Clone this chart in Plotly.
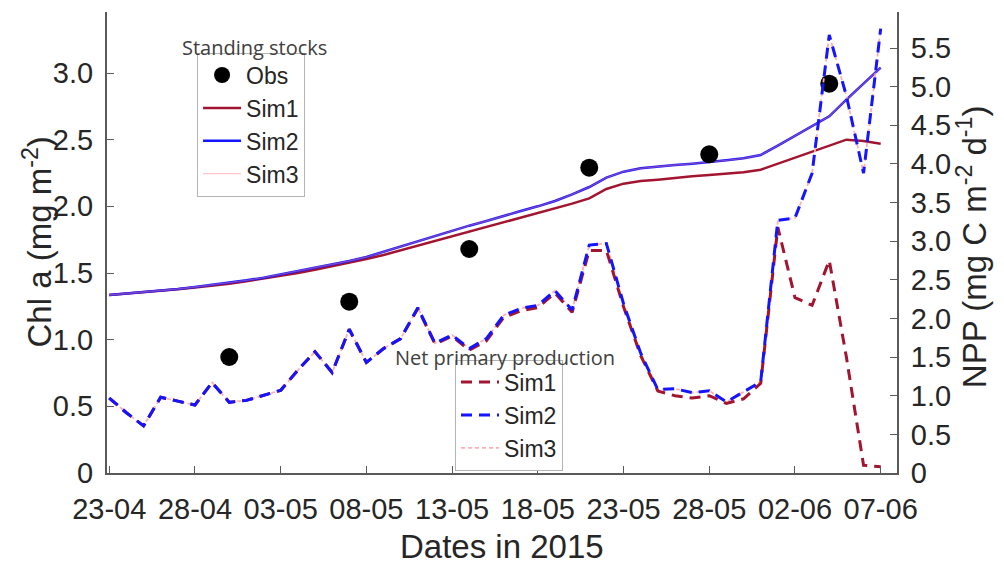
import plotly.graph_objects as go
import pandas as pd

# ---------------- data ----------------
dates = pd.date_range("2015-04-23", periods=46, freq="D")

ss_sim1 = [1.335, 1.345, 1.355, 1.368, 1.378, 1.392, 1.405, 1.42, 1.438, 1.458,
           1.48, 1.50, 1.525, 1.55, 1.575, 1.605, 1.635, 1.67, 1.70, 1.74,
           1.775, 1.81, 1.845, 1.88, 1.91, 1.945, 1.98, 2.02, 2.06, 2.13,
           2.17, 2.19, 2.20, 2.215, 2.225, 2.235, 2.245, 2.255, 2.275, 2.32,
           2.37, 2.41, 2.46, 2.50, 2.49, 2.47]
ss_sim2 = [1.335, 1.345, 1.355, 1.37, 1.38, 1.395, 1.41, 1.425, 1.445, 1.465,
           1.49, 1.51, 1.535, 1.56, 1.59, 1.62, 1.66, 1.70, 1.74, 1.78,
           1.82, 1.855, 1.89, 1.93, 1.965, 2.00, 2.04, 2.09, 2.145, 2.215,
           2.26, 2.285, 2.30, 2.31, 2.32, 2.33, 2.345, 2.36, 2.385, 2.455,
           2.53, 2.60, 2.675, 2.80, 2.92, 3.04]
ss_sim3 = [1.335, 1.345, 1.355, 1.37, 1.38, 1.395, 1.41, 1.425, 1.445, 1.465,
           1.49, 1.51, 1.535, 1.56, 1.59, 1.62, 1.66, 1.70, 1.74, 1.78,
           1.82, 1.855, 1.89, 1.93, 1.965, 2.00, 2.04, 2.09, 2.145, 2.215,
           2.26, 2.285, 2.30, 2.31, 2.32, 2.33, 2.345, 2.36, 2.385, 2.455,
           2.53, 2.60, 2.675, 2.80, 2.92, 3.04]

obs_dates = ["2015-04-30", "2015-05-07", "2015-05-14", "2015-05-21", "2015-05-28", "2015-06-04"]
obs_vals = [0.87, 1.285, 1.68, 2.29, 2.39, 2.92]

npp_sim1 = [0.97, 0.78, 0.61, 0.98, 0.93, 0.88, 1.17, 0.915, 0.94, 1.00,
            1.07, 1.33, 1.57, 1.30, 1.86, 1.43, 1.61, 1.74, 2.13, 1.67,
            1.77, 1.59, 1.71, 2.01, 2.10, 2.14, 2.33, 2.08, 2.88, 2.88,
            2.15, 1.52, 1.06, 1.00, 0.97, 1.00, 0.90, 0.96, 1.16, 3.18,
            2.27, 2.17, 2.75, 1.50, 0.10, 0.08]
npp_sim2 = [0.97, 0.78, 0.61, 0.98, 0.93, 0.88, 1.17, 0.915, 0.94, 1.00,
            1.07, 1.33, 1.57, 1.30, 1.86, 1.43, 1.61, 1.74, 2.14, 1.68,
            1.785, 1.61, 1.74, 2.04, 2.13, 2.17, 2.36, 2.11, 2.95, 2.97,
            2.19, 1.55, 1.08, 1.09, 1.04, 1.065, 0.92, 1.05, 1.18, 3.27,
            3.30, 3.88, 5.67, 4.88, 3.88, 5.75]
npp_sim3 = [0.97, 0.78, 0.61, 0.98, 0.93, 0.88, 1.17, 0.915, 0.94, 1.00,
            1.07, 1.33, 1.57, 1.30, 1.86, 1.43, 1.61, 1.74, 2.14, 1.68,
            1.785, 1.61, 1.74, 2.04, 2.13, 2.17, 2.36, 2.11, 2.95, 2.97,
            2.19, 1.55, 1.08, 1.09, 1.04, 1.065, 0.92, 1.05, 1.18, 3.27,
            3.30, 3.88, 5.67, 4.88, 3.88, 5.75]

x_tick_dates = ["2015-04-23", "2015-04-28", "2015-05-03", "2015-05-08", "2015-05-13",
                "2015-05-18", "2015-05-23", "2015-05-28", "2015-06-02", "2015-06-07"]
x_tick_labels = ["23-04", "28-04", "03-05", "08-05", "13-05",
                 "18-05", "23-05", "28-05", "02-06", "07-06"]
left_ticks = [0, 0.5, 1.0, 1.5, 2.0, 2.5, 3.0]
left_labels = ["0", "0.5", "1.0", "1.5", "2.0", "2.5", "3.0"]
right_ticks = [0, 0.5, 1.0, 1.5, 2.0, 2.5, 3.0, 3.5, 4.0, 4.5, 5.0, 5.5]
right_labels = ["0", "0.5", "1.0", "1.5", "2.0", "2.5", "3.0", "3.5", "4.0", "4.5", "5.0", "5.5"]

# ---------------- styles ----------------
RED = "#a2142f"
BLUE = "#1414ff"
PINK_SOLID = "rgba(255,130,140,0.45)"
PINK_DOT = "rgb(255,175,180)"
FONT = "Liberation Sans"
TXT = "#262626"
AX = "#5a5a5a"

fig = go.Figure()

# standing stocks (left axis)
fig.add_trace(go.Scatter(x=dates, y=ss_sim1, mode="lines", name="Sim1",
                         line=dict(color=RED, width=2.5), legend="legend", legendrank=2))
fig.add_trace(go.Scatter(x=dates, y=ss_sim2, mode="lines", name="Sim2",
                         line=dict(color=BLUE, width=2.5), legend="legend", legendrank=3))
fig.add_trace(go.Scatter(x=dates, y=ss_sim3, mode="lines", name="Sim3",
                         line=dict(color=PINK_SOLID, width=1.3), legend="legend", legendrank=4))
fig.add_trace(go.Scatter(x=obs_dates, y=obs_vals, mode="markers", name="Obs",
                         marker=dict(color="black", size=18), legend="legend", legendrank=1))

# net primary production (right axis)
fig.add_trace(go.Scatter(x=dates, y=npp_sim3, mode="lines", name="Sim3", yaxis="y2",
                         line=dict(color=PINK_DOT, width=1.8, dash="4px,3px"),
                         legend="legend2", legendrank=3))
fig.add_trace(go.Scatter(x=dates, y=npp_sim1, mode="lines", name="Sim1", yaxis="y2",
                         line=dict(color=RED, width=3, dash="11px,7px"),
                         legend="legend2", legendrank=1))
fig.add_trace(go.Scatter(x=dates, y=npp_sim2, mode="lines", name="Sim2", yaxis="y2",
                         line=dict(color=BLUE, width=3, dash="11px,7px"),
                         legend="legend2", legendrank=2))

axis_common = dict(showgrid=False, zeroline=False, showline=True, linecolor=AX, linewidth=2,
                   ticks="inside", ticklen=7, tickwidth=1.3, tickcolor=AX,
                   tickfont=dict(family=FONT, size=29, color=TXT))

title_font = dict(family=FONT, size=33, color=TXT)
leg_title_font = dict(family="Open Sans", size=20, color="#404040")
leg_font = dict(family=FONT, size=23, color=TXT)

fig.update_layout(
    width=1004, height=570,
    margin=dict(l=107, r=107, t=12, b=97),
    paper_bgcolor="white", plot_bgcolor="white",
    font=dict(family=FONT, color=TXT),
    showlegend=True,
    xaxis=dict(type="date", range=["2015-04-22 20:50", "2015-06-07 22:50"],
               tickmode="array", tickvals=x_tick_dates, ticktext=x_tick_labels,
               ticklabelstandoff=9, **axis_common),
    yaxis=dict(range=[0, 3.4575], tickmode="array", tickvals=left_ticks, ticktext=left_labels,
               ticklabelstandoff=6, **axis_common),
    yaxis2=dict(range=[0, 5.966], overlaying="y", side="right", anchor="x",
                tickmode="array", tickvals=right_ticks, ticktext=right_labels,
                ticklabelstandoff=6, **axis_common),
    legend=dict(x=0.114, y=0.912, xanchor="left", yanchor="top",
                bgcolor="white", bordercolor="#b4b4b4", borderwidth=1,
                font=leg_font, tracegroupgap=0, itemwidth=38),
    legend2=dict(x=0.4405, y=0.246, xanchor="left", yanchor="top",
                 bgcolor="white", bordercolor="#b4b4b4", borderwidth=1,
                 font=leg_font, tracegroupgap=0, itemwidth=38),
    annotations=[
        dict(text="Chl a (mg m<sup>-2</sup>)", x=-0.0886, y=0.5, xref="paper", yref="paper",
             textangle=-90, showarrow=False, xanchor="center", yanchor="middle", font=title_font),
        dict(text="NPP (mg C m<sup>-2</sup> d<sup>-1</sup>)", x=1.0949, y=0.492, xref="paper", yref="paper",
             textangle=-90, showarrow=False, xanchor="center", yanchor="middle", font=title_font),
        dict(text="Dates in 2015", x=0.5, y=-0.1605, xref="paper", yref="paper",
             showarrow=False, xanchor="center", yanchor="middle", font=title_font),
        dict(text="Standing stocks", x=0.1873, y=0.924, xref="paper", yref="paper",
             showarrow=False, xanchor="center", yanchor="middle", font=leg_title_font),
        dict(text="Net primary production", x=0.5038, y=0.2516, xref="paper", yref="paper",
             showarrow=False, xanchor="center", yanchor="middle", font=leg_title_font),
    ],
)

fig.write_html("out.html")
